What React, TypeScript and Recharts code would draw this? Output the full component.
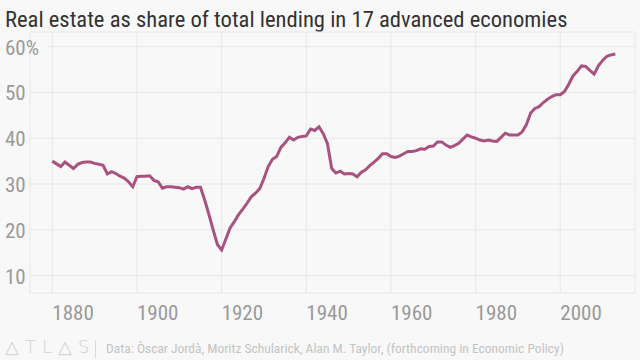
import React from 'react'
import { LineChart, Line, XAxis, YAxis, CartesianGrid } from 'recharts'

// real estate share of total lending, % (1880 onwards, one value per year)
const START_YEAR = 1880
const SHARE = [
  35.0, 34.4, 33.8, 34.8, 34.1, 33.4, 34.3, 34.7, 34.8, 34.8,
  34.5, 34.3, 34.1, 32.2, 32.7, 32.3, 31.7, 31.3, 30.5, 29.4,
  31.6, 31.7, 31.7, 31.8, 30.8, 30.5, 29.1, 29.4, 29.4, 29.3,
  29.2, 28.9, 29.4, 29.0, 29.3, 29.3, 26.5, 23.3, 20.0, 16.8,
  15.6, 18.0, 20.4, 21.8, 23.3, 24.5, 25.8, 27.2, 28.0, 29.0,
  31.2, 33.8, 35.4, 36.0, 38.0, 39.0, 40.2, 39.6, 40.2, 40.4,
  40.5, 42.0, 41.7, 42.5, 41.0, 38.8, 33.4, 32.4, 32.8, 32.2,
  32.3, 32.2, 31.6, 32.6, 33.1, 34.0, 34.8, 35.6, 36.6, 36.6,
  36.0, 35.8, 36.1, 36.6, 37.1, 37.1, 37.3, 37.7, 37.6, 38.2,
  38.3, 39.2, 39.2, 38.5, 38.0, 38.4, 38.9, 39.8, 40.7, 40.3,
  40.0, 39.6, 39.4, 39.6, 39.4, 39.3, 40.2, 41.1, 40.7, 40.7,
  40.7, 41.4, 43.0, 45.5, 46.5, 46.9, 47.8, 48.5, 49.1, 49.5,
  49.5, 50.2, 51.8, 53.6, 54.6, 55.8, 55.7, 54.8, 54.0, 55.8,
  57.0, 57.9, 58.2, 58.4,
]

const X_TICKS = [1880, 1900, 1920, 1940, 1960, 1980, 2000]
const Y_TICKS = [10, 20, 30, 40, 50, 60]

const TITLE = 'Real estate as share of total lending in 17 advanced economies'
const SOURCE = 'Data: Òscar Jordà, Moritz Schularick, Alan M. Taylor, (forthcoming in Economic Policy)'

const data = SHARE.map((v, i) => ({ year: START_YEAR + i, share: v }))

const FONT = '"Liberation Sans Narrow", "Roboto Condensed", "Liberation Sans", sans-serif'
const BG = '#f8f8f8'
const LINE = '#a8527f'
const LABEL = '#9a9a9a'

const XTick = (props: any) => {
  const { x, payload } = props
  return (
    <text x={x} y={320} textAnchor="start" fill={LABEL} fontSize={21} fontFamily={FONT}>
      {payload.value}
    </text>
  )
}

const YTick = (props: any) => {
  const { y, payload } = props
  const label = payload.value === 60 ? '60%' : String(payload.value)
  return (
    <g>
      {/* hide the grid line behind the label */}
      {payload.value === 60 && <rect x={29} y={y - 2} width={19} height={4} fill={BG} />}
      <text x={5} y={y + 8} textAnchor="start" fill={LABEL} fontSize={21} fontFamily={FONT}>
        {label}
      </text>
    </g>
  )
}

export default function App() {
  return (
    <div style={{ position: 'absolute', left: 0, top: 0, width: 640, height: 360, background: BG, fontFamily: FONT, overflow: 'hidden' }}>
      <div style={{ position: 'absolute', left: 5, top: 9, fontSize: 22.6, lineHeight: '22px', color: '#333', whiteSpace: 'nowrap' }}>
        {TITLE}
      </div>

      <LineChart width={640} height={360} data={data} margin={{ top: 32, right: 5, bottom: 0, left: 0 }}>
        <CartesianGrid stroke="#e8e8e8" strokeWidth={1} />
        <XAxis
          dataKey="year"
          type="number"
          domain={[1874.73, 2017.65]}
          ticks={X_TICKS}
          allowDataOverflow
          axisLine={false}
          tickLine={false}
          height={67}
          tick={<XTick />}
        />
        <YAxis
          type="number"
          width={30}
          domain={[6.2, 63.2]}
          ticks={Y_TICKS}
          allowDataOverflow
          axisLine={false}
          tickLine={false}
          tick={<YTick />}
        />
        <Line
          type="linear"
          dataKey="share"
          stroke={LINE}
          strokeWidth={3}
          dot={false}
          activeDot={false}
          isAnimationActive={false}
        />
      </LineChart>

      <div style={{ position: 'absolute', left: 5, top: 338, fontSize: 18, lineHeight: '18px', color: '#d2d2d2', letterSpacing: 6, fontFamily: '"DejaVu Sans", sans-serif', fontWeight: 300 }}>
        △TL△S
      </div>
      <div style={{ position: 'absolute', left: 95, top: 340, width: 1, height: 18, background: '#dcdcdc' }} />
      <div style={{ position: 'absolute', left: 106, top: 342, fontSize: 13.5, lineHeight: '13px', color: '#c4c4c4', whiteSpace: 'nowrap' }}>
        {SOURCE}
      </div>
    </div>
  )
}
